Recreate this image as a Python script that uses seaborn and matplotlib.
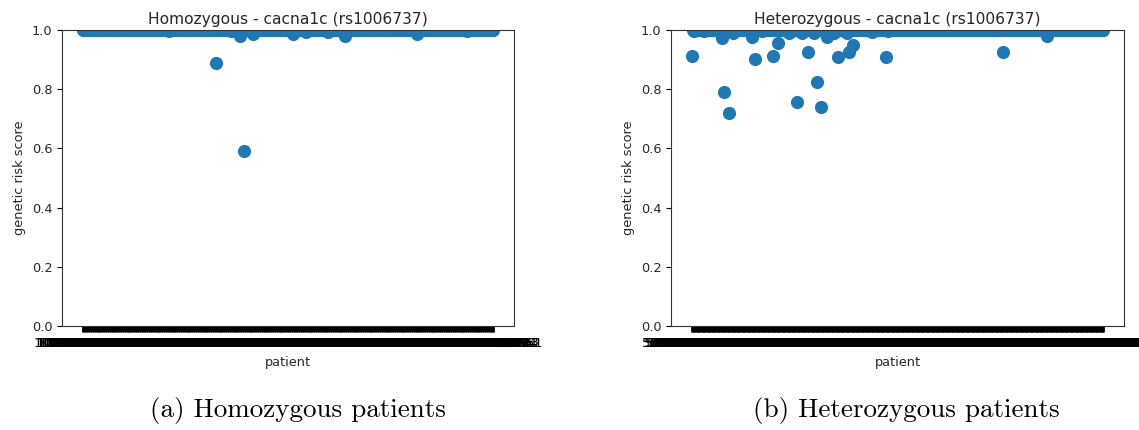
import pandas as pd
import matplotlib
matplotlib.use("Agg")
import matplotlib.pyplot as plt
import seaborn as sns

n_homo = 220
n_hetero = 330

# homozygous: positions of patients whose score is below 1.0, and their scores
homo_dip_idx = [46, 71, 79, 84, 86, 91, 112, 119, 131, 140, 178, 205]
homo_dip_val = [0.995, 0.889, 0.995, 0.980, 0.591, 0.985, 0.985, 0.993, 0.993, 0.980, 0.985, 0.997]

# heterozygous
hetero_dip_idx = [0, 2, 10, 24, 26, 30, 33, 48, 51, 56, 65, 69, 78, 84, 88, 93, 98, 100,
                  103, 108, 114, 117, 124, 126, 129, 144, 155, 157, 249, 284]
hetero_dip_val = [0.913, 0.995, 0.995, 0.973, 0.790, 0.720, 0.990, 0.976, 0.903, 0.995,
                  0.913, 0.957, 0.990, 0.757, 0.990, 0.927, 0.990, 0.825, 0.739, 0.977,
                  0.990, 0.908, 0.990, 0.925, 0.951, 0.992, 0.909, 0.995, 0.927, 0.980]

# patient ids (unreadable in the original, they just pile up into a black bar)
homo_ids = [str(100200300400 + 7919 * i) for i in range(n_homo)]
hetero_ids = [str(500600700800 + 6841 * i) for i in range(n_hetero)]


def build_scores(n, idx, val):
    scores = [1.0] * n
    for i, v in zip(idx, val):
        scores[i] = v
    return scores


homo = pd.DataFrame({"patient": homo_ids,
                     "score": build_scores(n_homo, homo_dip_idx, homo_dip_val)})
hetero = pd.DataFrame({"patient": hetero_ids,
                       "score": build_scores(n_hetero, hetero_dip_idx, hetero_dip_val)})

plt.rcParams["font.size"] = 9.3
plt.rcParams["text.color"] = "#262626"
plt.rcParams["axes.labelcolor"] = "#262626"
plt.rcParams["ytick.labelcolor"] = "#262626"
fig = plt.figure(figsize=(11.39, 4.30), dpi=100)
ax1 = fig.add_axes([62 / 1139, 104 / 430, 452 / 1139, 296 / 430])
ax2 = fig.add_axes([671 / 1139, 104 / 430, 453 / 1139, 296 / 430])

panels = [(ax1, homo, "Homozygous - cacna1c (rs1006737)"),
          (ax2, hetero, "Heterozygous - cacna1c (rs1006737)")]
for ax, df, title in panels:
    sns.scatterplot(data=df, x="patient", y="score", ax=ax, s=90,
                    linewidth=0, color="#1f77b4")
    ax.set_ylim(0, 1.0)
    ax.set_title(title, fontsize=11.2, pad=4)
    ax.set_xlabel("patient", fontsize=9.3)
    ax.set_ylabel("genetic risk score", fontsize=9.3)
    ax.tick_params(axis="both", labelsize=9.3)
    ax.tick_params(axis="x", width=2.0, length=4.5, labelcolor="black")
    for sp in ax.spines.values():
        sp.set_color("#333333")

cap_font = ["cmr10", "DejaVu Serif"]
fig.text(298 / 1139, 1 - 410 / 430, "(a) Homozygous patients", ha="center",
         va="center", fontsize=19.5, family=cap_font, color="black")
fig.text(906 / 1139, 1 - 410 / 430, "(b) Heterozygous patients", ha="center",
         va="center", fontsize=19.5, family=cap_font, color="black")

fig.savefig("out.png", dpi=100)
